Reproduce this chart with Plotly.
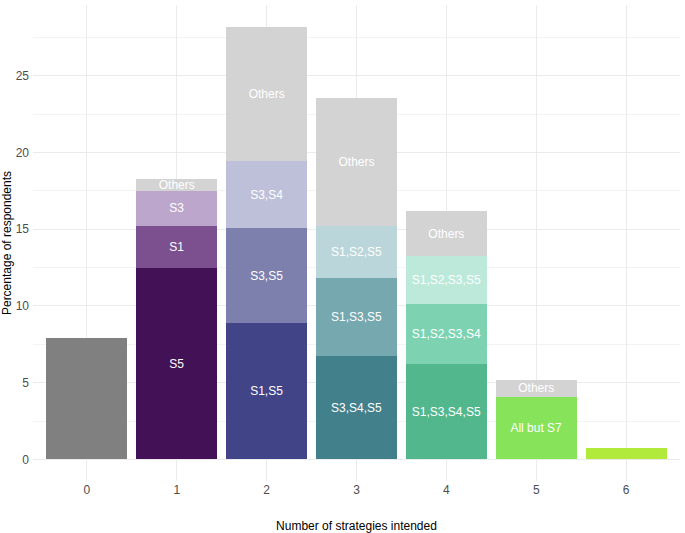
import plotly.graph_objects as go

# Data
categories = [0, 1, 2, 3, 4, 5, 6]
bar_segments = {
    0: [("", 7.91)],
    1: [("S5", 12.45), ("S1", 2.74), ("S3", 2.33), ("Others", 0.76)],
    2: [("S1,S5", 8.87), ("S3,S5", 6.19), ("S3,S4", 4.41), ("Others", 8.74)],
    3: [("S3,S4,S5", 6.71), ("S1,S3,S5", 5.12), ("S1,S2,S5", 3.38), ("Others", 8.35)],
    4: [("S1,S3,S4,S5", 6.24), ("S1,S2,S3,S4", 3.91), ("S1,S2,S3,S5", 3.08), ("Others", 2.96)],
    5: [("All but S7", 4.09), ("Others", 1.11)],
    6: [("", 0.72)],
}
segment_colors = {
    0: ["#7f807f"],
    1: ["#431256", "#7c4f8f", "#bca6cc", "#d3d3d3"],
    2: ["#414487", "#7d80ad", "#bec0d9", "#d3d3d3"],
    3: ["#42808c", "#76a8b0", "#bad6da", "#d3d3d3"],
    4: ["#52b78c", "#7dd3b1", "#bce9d9", "#d3d3d3"],
    5: ["#86e35a", "#d3d3d3"],
    6: ["#b2ea3c"],
}
x_ticks = ["0", "1", "2", "3", "4", "5", "6"]
y_ticks = [0, 5, 10, 15, 20, 25]

FONT = "Liberation Sans, Arial, sans-serif"

fig = go.Figure()
for cat in categories:
    for (label, val), col in zip(bar_segments[cat], segment_colors[cat]):
        fig.add_trace(go.Bar(
            x=[cat], y=[val], text=[label],
            marker=dict(color=col, line=dict(width=0)),
            textposition="inside", insidetextanchor="middle",
            textfont=dict(color="white", size=12, family=FONT),
            showlegend=False, hoverinfo="skip",
        ))

fig.update_layout(
    barmode="stack",
    bargap=0.1,
    width=685, height=533,
    margin=dict(l=33, r=5, t=5, b=52),
    paper_bgcolor="white", plot_bgcolor="white",
    font=dict(family=FONT, size=12, color="#4d4d4d"),
    uniformtext=dict(minsize=12, mode="show"),
    xaxis=dict(
        range=[-0.6, 6.6], tickvals=categories, ticktext=x_ticks,
        showgrid=True, gridcolor="#ebebeb", gridwidth=1,
        zeroline=False, showline=False, ticks="",
        tickfont=dict(size=12, color="#4d4d4d"),
        title=dict(text="Number of strategies intended", font=dict(size=12, color="black"), standoff=25),
        automargin=False,
    ),
    yaxis=dict(
        range=[-1.41, 29.62], tickvals=y_ticks,
        showgrid=True, gridcolor="#ebebeb", gridwidth=1,
        minor=dict(tick0=2.5, dtick=5, showgrid=True, gridcolor="#f3f3f3", gridwidth=0.6),
        zeroline=False, showline=False, ticks="",
        ticklabelstandoff=3,
        tickfont=dict(size=12, color="#4d4d4d"),
        title=dict(text="Percentage of respondents", font=dict(size=12, color="black"), standoff=4),
        automargin=False,
    ),
)

fig.write_html(
    "out.html",
    config={"displayModeBar": False},
    post_script="document.body.style.margin='0';document.body.style.padding='0';",
)
